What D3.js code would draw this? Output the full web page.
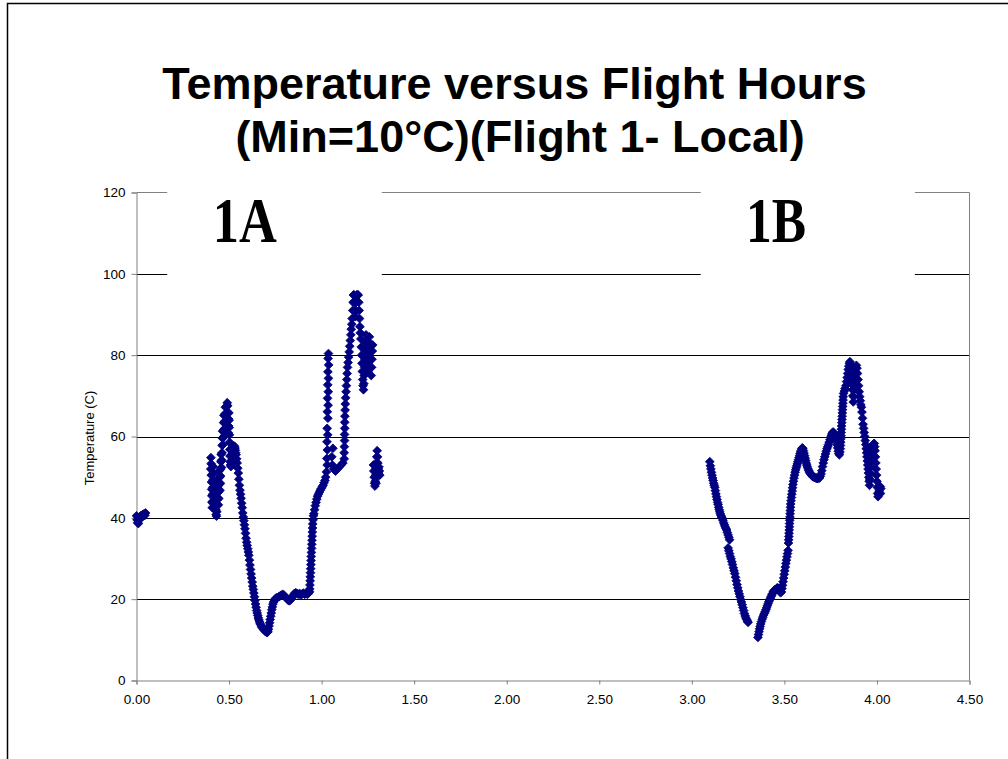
<!DOCTYPE html>
<html><head><meta charset="utf-8">
<script src="https://cdn.jsdelivr.net/npm/d3@7"></script>
<style>
body{margin:0;background:#fff}
svg{display:block}
</style>
</head><body>
<svg id="chart" width="1008" height="759"></svg>
<script>
// ---------------- DATA ----------------
const titleLines = ["Temperature versus Flight Hours", "(Min=10°C)(Flight 1- Local)"];
const yAxisTitle = "Temperature (C)";
const yTicks = [0, 20, 40, 60, 80, 100, 120];
const xTicks = [0, 0.5, 1.0, 1.5, 2.0, 2.5, 3.0, 3.5, 4.0, 4.5];
const sectionLabels = ["1A", "1B"];

// Flight 1A : [hours, temperature]
const f1aGround = [[0.000,40.5],[0.003,39.5],[0.006,38.8],[0.010,38.6],[0.013,39.5],[0.017,40.2],[0.021,39.8],[0.025,40.6],[0.029,40.2],[0.033,40.8],[0.037,40.5],[0.041,41.0],[0.045,40.6],[0.049,41.2]];

const f1aClimb = [[0.401,52.0],[0.402,54.8],[0.403,53.3],[0.404,50.5],[0.405,48.8],[0.406,47.0],[0.407,45.4],[0.408,43.8],[0.409,42.5],[0.410,44.0],[0.411,45.8],[0.412,47.5],[0.413,49.3],[0.414,51.0],[0.415,52.6],[0.416,51.0],[0.417,49.2],[0.418,47.4],[0.419,45.6],[0.420,43.8],[0.421,42.2],[0.422,43.7],[0.423,45.3],[0.424,47.0],[0.425,48.6],[0.426,47.0],[0.427,45.2],[0.428,43.5],[0.429,42.0],[0.430,40.8],[0.432,40.4],[0.434,41.5],[0.436,43.0],[0.437,44.6],[0.438,46.2],[0.439,47.8],[0.440,46.2],[0.441,44.6],[0.442,43.2],[0.444,44.8],[0.445,46.5],[0.446,48.2],[0.447,49.9],[0.448,51.6],[0.449,50.0],[0.450,48.3],[0.451,46.8],[0.453,48.5],[0.454,50.3],[0.455,52.0],[0.456,53.8],[0.457,55.6],[0.458,54.0],[0.459,52.4],[0.461,54.2],[0.462,56.0],[0.463,57.8],[0.464,59.6],[0.465,61.3],[0.466,59.6],[0.467,58.0],[0.469,59.8],[0.470,61.6],[0.471,63.4],[0.472,65.2],[0.473,63.5],[0.474,61.8],[0.475,60.2],[0.477,62.0],[0.478,63.8],[0.479,65.6],[0.480,67.2],[0.482,65.5],[0.483,63.8],[0.484,62.2],[0.486,64.0],[0.487,65.8],[0.488,67.4],[0.490,68.3],[0.492,67.6],[0.493,66.0],[0.494,64.3],[0.495,62.6],[0.496,60.9],[0.497,62.6],[0.498,64.3],[0.499,65.8],[0.500,64.0],[0.501,62.2],[0.502,60.4],[0.503,58.6],[0.504,56.8],[0.505,55.2],[0.506,53.8],[0.508,53.0],[0.510,52.6],[0.512,53.2],[0.514,54.0],[0.515,55.5],[0.516,57.0],[0.518,57.8],[0.520,57.2],[0.522,56.0],[0.524,54.8],[0.526,55.8],[0.528,57.0],[0.530,57.6],[0.532,57.2],[0.534,56.6]];

const f1aDescent = [[0.536,56.0],[0.538,55.5],[0.541,54.5],[0.544,53.5],[0.547,52.2],[0.550,51.0],[0.553,49.5],[0.556,48.0],[0.559,46.8],[0.562,45.8],[0.565,44.8],[0.568,43.6],[0.571,42.5],[0.574,41.2],[0.577,40.2],[0.580,39.3],[0.583,38.3],[0.586,37.3],[0.589,36.2],[0.592,35.0],[0.595,34.0],[0.598,33.2],[0.601,32.4],[0.604,31.6],[0.607,30.8],[0.610,29.6],[0.613,28.4],[0.616,27.3],[0.619,26.2],[0.622,25.2],[0.625,24.2],[0.628,23.2],[0.631,22.4],[0.634,21.5],[0.637,20.6],[0.640,19.7],[0.643,18.8],[0.646,18.0],[0.649,17.2],[0.652,16.6],[0.655,16.0],[0.658,15.4],[0.661,14.9],[0.664,14.5],[0.667,14.1],[0.670,13.8],[0.674,13.4],[0.678,13.1],[0.682,12.8],[0.686,12.6],[0.690,12.4],[0.694,12.2],[0.698,12.0],[0.702,11.9],[0.706,11.8],[0.710,12.0],[0.713,12.6],[0.716,13.4],[0.719,14.2],[0.722,15.0],[0.725,15.8],[0.728,16.6],[0.731,17.4],[0.734,18.1],[0.737,18.8],[0.741,19.3],[0.745,19.8],[0.750,20.1]];

const f1aPlateau = [[0.755,20.3],[0.762,20.4],[0.769,20.6],[0.776,20.8],[0.783,21.0],[0.790,21.2],[0.797,21.0],[0.804,20.6],[0.811,20.2],[0.818,19.8],[0.825,19.6],[0.832,19.8],[0.839,20.3],[0.846,20.9],[0.853,21.4],[0.860,21.6],[0.867,21.4],[0.874,21.2],[0.881,21.4],[0.888,21.0],[0.895,21.3],[0.902,21.5],[0.909,21.2],[0.916,21.4],[0.923,21.2],[0.930,21.5],[0.935,21.8]];

const f1aRise = [[0.936,22.5],[0.937,23.5],[0.938,24.5],[0.939,25.5],[0.940,26.5],[0.941,27.5],[0.942,28.5],[0.943,29.5],[0.944,30.5],[0.945,31.5],[0.946,32.5],[0.947,33.5],[0.948,34.5],[0.949,35.5],[0.950,36.5],[0.951,37.5],[0.952,38.5],[0.954,39.5],[0.956,40.5],[0.958,41.0],[0.962,42.0],[0.966,43.0],[0.970,43.8],[0.974,44.6],[0.978,45.3],[0.983,45.8],[0.988,46.3],[0.993,46.8],[0.998,47.2],[1.003,47.6],[1.008,48.0],[1.013,48.6],[1.018,49.2],[1.022,50.0],[1.026,51.3],[1.030,53.0],[1.028,54.6],[1.031,56.7],[1.029,58.7],[1.033,60.4],[1.030,62.0],[1.034,64.5],[1.031,66.1],[1.035,67.7],[1.032,69.4],[1.036,71.0],[1.033,72.7],[1.037,74.3],[1.034,75.9],[1.038,77.6],[1.035,79.2],[1.037,80.4]];

const f1aHook = [[1.061,57.1],[1.055,55.0],[1.058,53.0],[1.065,52.0],[1.075,51.5],[1.085,52.0],[1.095,52.5],[1.105,53.0],[1.115,53.5],[1.122,54.5],[1.122,56.0],[1.123,57.5],[1.124,59.0],[1.124,60.5],[1.125,62.0],[1.125,63.5],[1.126,65.0],[1.127,66.5],[1.128,68.0],[1.130,69.5],[1.132,71.0],[1.134,72.5],[1.136,74.0],[1.138,75.5],[1.140,77.0],[1.143,78.2],[1.146,79.5],[1.149,80.8],[1.152,82.2],[1.155,83.6],[1.158,85.0],[1.160,86.4],[1.163,87.6],[1.165,89.0],[1.168,91.0],[1.170,93.0],[1.172,94.8],[1.176,94.8],[1.179,93.0],[1.181,91.0],[1.183,89.5],[1.186,91.0],[1.188,93.0],[1.190,94.8],[1.194,94.8],[1.198,94.8],[1.201,93.0],[1.203,91.0],[1.205,89.0],[1.207,87.0],[1.209,85.5],[1.212,84.0],[1.214,82.0],[1.216,80.0],[1.218,78.0],[1.220,76.0],[1.222,74.0],[1.224,72.5],[1.226,71.5],[1.228,73.0],[1.230,75.0],[1.232,77.0],[1.234,79.0],[1.236,81.0],[1.238,83.0],[1.240,85.0],[1.242,83.5],[1.244,81.5],[1.246,79.5],[1.248,77.5],[1.250,76.0],[1.252,78.0],[1.254,80.0],[1.256,82.0],[1.258,84.5],[1.260,83.0],[1.262,81.0],[1.264,79.0],[1.266,77.0],[1.268,75.0],[1.270,77.0],[1.272,79.0],[1.274,81.0],[1.276,82.5]];

const f1aLanding = [[1.280,53.0],[1.282,51.5],[1.284,50.0],[1.286,48.5],[1.288,47.8],[1.290,49.0],[1.292,50.5],[1.294,52.0],[1.296,53.5],[1.298,55.0],[1.300,56.5],[1.302,55.0],[1.304,53.5],[1.306,52.0],[1.308,51.0],[1.310,52.5],[1.312,51.5],[1.314,50.5],[1.298,50.0],[1.294,48.5]];

// Flight 1B : [hours, temperature]
const f1bDescentA = [[3.097,53.8],[3.100,52.8],[3.103,52.0],[3.106,51.2],[3.109,50.5],[3.112,49.8],[3.115,49.2],[3.118,48.5],[3.121,48.0],[3.124,47.5],[3.127,46.7],[3.130,45.9],[3.133,45.2],[3.136,44.5],[3.139,43.8],[3.142,43.3],[3.145,42.6],[3.148,42.0],[3.151,41.5],[3.154,41.0],[3.157,40.6],[3.160,40.2],[3.164,39.9],[3.168,39.4],[3.172,38.8],[3.176,38.3],[3.180,37.8],[3.184,37.4],[3.188,37.0],[3.192,36.4],[3.196,35.8],[3.200,35.2],[3.204,34.6]];

const f1bDescentB = [[3.196,32.6],[3.200,31.9],[3.204,31.2],[3.208,30.5],[3.212,29.9],[3.216,29.2],[3.220,28.5],[3.224,27.7],[3.228,27.0],[3.232,26.3],[3.236,25.4],[3.240,24.5],[3.244,23.6],[3.248,22.8],[3.252,22.0],[3.256,21.3],[3.260,20.6],[3.264,19.9],[3.268,19.3],[3.272,18.6],[3.276,17.9],[3.280,17.2],[3.284,16.5],[3.288,15.9],[3.292,15.4],[3.296,15.0],[3.300,14.6],[3.304,14.3]];

const f1bClimbA = [[3.357,10.6],[3.360,11.3],[3.363,12.0],[3.366,12.7],[3.369,13.3],[3.372,13.9],[3.376,14.5],[3.380,15.1],[3.384,15.6],[3.388,16.1],[3.392,16.5],[3.396,16.9],[3.400,17.4],[3.404,17.9],[3.408,18.4],[3.412,18.9],[3.416,19.4],[3.420,19.8],[3.424,20.2],[3.428,20.6],[3.432,21.0],[3.436,21.4],[3.440,21.8],[3.444,22.1],[3.448,22.3],[3.452,22.4],[3.456,22.5],[3.460,22.7],[3.464,22.8],[3.468,22.6],[3.472,22.2],[3.476,21.8],[3.480,21.6],[3.484,21.8],[3.487,22.6],[3.490,23.4],[3.493,24.3],[3.496,25.2],[3.499,26.1],[3.502,27.0],[3.505,27.9],[3.508,28.8],[3.511,29.6],[3.514,30.4],[3.517,31.2],[3.520,32.0]];

const f1bClimbB = [[3.522,33.8],[3.523,34.6],[3.524,35.4],[3.525,36.2],[3.526,37.0],[3.527,37.8],[3.528,38.6],[3.529,39.4],[3.530,40.2],[3.531,41.0],[3.532,41.8],[3.533,42.6],[3.534,43.4],[3.536,44.2],[3.538,45.0],[3.540,45.8],[3.542,46.6],[3.544,47.4],[3.546,48.2],[3.549,49.0],[3.552,49.8],[3.555,50.5],[3.558,51.2],[3.561,51.8],[3.564,52.3],[3.567,52.8],[3.570,53.3],[3.573,53.8],[3.576,54.3],[3.579,54.8],[3.582,55.3],[3.585,55.8],[3.588,56.2],[3.591,56.6],[3.594,57.0],[3.597,57.2],[3.600,57.0],[3.603,56.5],[3.606,55.9],[3.609,55.3],[3.612,54.7],[3.615,54.1],[3.618,53.5],[3.621,53.0],[3.624,52.5],[3.628,52.0],[3.632,51.6],[3.636,51.2],[3.640,50.9],[3.645,50.6],[3.650,50.3],[3.655,50.1],[3.660,50.0],[3.665,49.9],[3.670,49.8],[3.675,49.7],[3.680,49.7],[3.685,49.8],[3.690,49.8],[3.694,50.2],[3.698,50.8],[3.702,51.6],[3.706,52.6],[3.710,53.5],[3.714,54.3],[3.718,55.0],[3.722,55.7],[3.726,56.4],[3.730,57.0],[3.734,57.5],[3.738,58.0],[3.742,58.6],[3.746,59.2],[3.750,59.8],[3.754,60.3],[3.758,60.8],[3.762,61.1],[3.766,61.0],[3.770,60.6],[3.774,60.0],[3.778,59.4],[3.782,58.7],[3.785,58.0],[3.788,57.2],[3.791,56.4],[3.794,55.8],[3.797,55.5],[3.800,56.2],[3.802,57.0],[3.803,57.8],[3.804,58.6],[3.805,59.4],[3.806,60.2],[3.807,61.0],[3.808,61.8],[3.809,62.6],[3.810,63.4],[3.811,64.2],[3.812,65.0],[3.813,65.8],[3.814,66.6],[3.815,67.4],[3.816,68.2],[3.817,69.0],[3.818,69.8],[3.820,70.6],[3.824,71.2],[3.828,71.8],[3.832,72.5],[3.836,73.5],[3.839,74.5],[3.842,75.5],[3.845,76.5],[3.848,77.3],[3.851,78.0],[3.854,78.4],[3.857,77.8],[3.860,76.8],[3.862,75.5],[3.864,74.2],[3.866,72.8],[3.868,71.5],[3.870,70.0],[3.872,68.5],[3.874,69.8],[3.876,71.5],[3.878,73.0],[3.880,74.5],[3.883,76.0],[3.886,77.0],[3.889,77.5],[3.892,76.8],[3.895,75.5],[3.898,74.0],[3.901,72.5],[3.904,71.0],[3.907,69.8],[3.910,68.8],[3.913,67.8],[3.916,67.2],[3.919,66.0],[3.922,64.5],[3.925,63.0],[3.928,62.0],[3.931,61.0],[3.934,60.0],[3.937,59.0],[3.940,58.0],[3.942,57.0],[3.944,56.0],[3.946,55.0],[3.948,54.0],[3.950,53.0],[3.952,52.0],[3.954,51.0],[3.956,50.0],[3.958,49.0],[3.960,48.0],[3.962,49.5],[3.964,51.0],[3.966,52.5],[3.968,54.0],[3.970,55.5],[3.973,56.5],[3.976,57.2],[3.979,57.8],[3.982,58.2],[3.985,58.3],[3.988,57.5],[3.990,56.5],[3.992,55.0],[3.994,53.5],[3.996,52.0],[3.998,50.5],[4.000,49.0],[4.002,47.5],[4.004,46.0],[4.006,45.2],[4.009,45.8],[4.012,46.6],[4.015,47.3],[4.018,47.7],[4.021,47.2],[4.019,46.0]];

const allSeries = [f1aGround, f1aClimb, f1aDescent, f1aPlateau, f1aRise, f1aHook, f1aLanding,
                   f1bDescentA, f1bDescentB, f1bClimbA, f1bClimbB];

// ---------------- LAYOUT ----------------
const SANS = "'Liberation Sans', Arial, sans-serif";
const SERIF = "'Liberation Serif', 'Times New Roman', serif";
const svg = d3.select("#chart");
const W = 1008, H = 759;
const plot = {left: 136.5, right: 969.5, top: 192.5, bottom: 680.5};

const x = d3.scaleLinear().domain([0, 4.5]).range([plot.left, plot.right]);
const y = d3.scaleLinear().domain([0, 120]).range([plot.bottom, plot.top]);

svg.append("rect").attr("width", W).attr("height", H).attr("fill", "#fff");

// outer frame
svg.append("rect").attr("x", 7.5).attr("y", 3.5).attr("width", W + 20).attr("height", H + 20)
  .attr("fill", "none").attr("stroke", "#000").attr("stroke-width", 1.5);

// title
svg.append("text").attr("x", 514.5).attr("y", 99).attr("text-anchor", "middle")
  .style("font-family", SANS).attr("font-size", 45).attr("font-weight", "bold").attr("fill", "#000").text(titleLines[0]);
svg.append("text").attr("x", 520).attr("y", 152).attr("text-anchor", "middle")
  .style("font-family", SANS).attr("font-size", 45).attr("font-weight", "bold").attr("fill", "#000").text(titleLines[1]);

// gridlines
svg.append("g").selectAll("line").data(yTicks.filter(d => d > 0 && d < 120)).join("line")
  .attr("x1", plot.left).attr("x2", plot.right)
  .attr("y1", d => Math.round(y(d)) + 0.5).attr("y2", d => Math.round(y(d)) + 0.5)
  .attr("stroke", "#000").attr("stroke-width", 1);

// plot border (top, right)
svg.append("path")
  .attr("d", `M${plot.left},${plot.top}H${plot.right}V${plot.bottom}`)
  .attr("fill", "none").attr("stroke", "#808080").attr("stroke-width", 1);

// axes
const fmtX = d3.format(".2f");
const xAxis = svg.append("g").attr("transform", `translate(0,${plot.bottom})`)
  .call(d3.axisBottom(x).tickValues(xTicks).tickFormat(fmtX).tickSize(4).tickPadding(10));
const yAxis = svg.append("g").attr("transform", `translate(${plot.left},0)`)
  .call(d3.axisLeft(y).tickValues(yTicks).tickFormat(d3.format("d")).tickSize(5).tickPadding(6));
[xAxis, yAxis].forEach(g => {
  g.select(".domain").attr("stroke", "#808080");
  g.selectAll(".tick line").attr("stroke", "#808080");
  g.selectAll(".tick text").attr("fill", "#000").style("font-size", "13.5px")
    .style("font-family", SANS);
});

// y axis title
svg.append("text").attr("transform", `translate(94,438) rotate(-90)`)
  .attr("text-anchor", "middle").style("font-family", SANS).attr("font-size", 13).attr("fill", "#000").text(yAxisTitle);

// section label boxes (white, hiding gridlines)
const labelBoxes = [
  {x0: x(0.166), x1: x(1.325), cx: x(0.585), w: 64},
  {x0: x(3.048), x1: x(4.205), cx: x(3.455), w: 60}
];
labelBoxes.forEach((b, i) => {
  svg.append("rect").attr("x", b.x0).attr("y", 184).attr("width", b.x1 - b.x0)
    .attr("height", y(99) - 184).attr("fill", "#fff");
  svg.append("text").attr("x", b.cx - b.w / 2).attr("y", 241.7)
    .style("font-family", SERIF)
    .attr("font-weight", "bold").attr("font-size", 64)
    .attr("textLength", b.w).attr("lengthAdjust", "spacingAndGlyphs")
    .attr("fill", "#000").text(sectionLabels[i]);
});

// markers
const r = 4.4;
const diamond = `M0,${-r}L${r},0L0,${r}L${-r},0Z`;
const pts = allSeries.flat();
svg.append("g").selectAll("path").data(pts).join("path")
  .attr("d", diamond)
  .attr("transform", d => `translate(${x(d[0])},${y(d[1])})`)
  .attr("fill", "#000080").attr("stroke", "#000080").attr("stroke-width", 0.8);
</script>
</body></html>
